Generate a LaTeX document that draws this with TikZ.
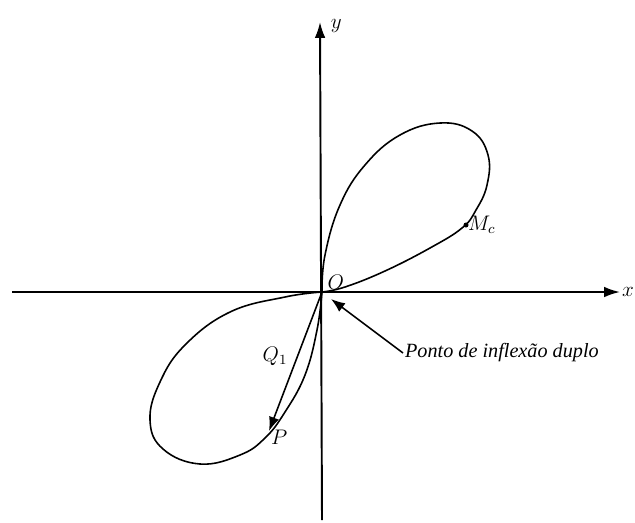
\documentclass[tikz,border=0pt]{standalone}
\usepackage{fontspec}
\setmainfont{Liberation Serif}
\usetikzlibrary{arrows.meta, positioning}

\begin{document}
\begin{tikzpicture}[
    x=0.02cm, y=-0.02cm,
    axis/.style={
        ->,
        >={Latex[length=9pt, width=6pt]},
        line width=1.1pt,
        draw=black
    },
    curve/.style={
        line width=0.9pt,
        draw=black
    },
    pointer/.style={
        ->,
        >={Latex[length=8pt, width=6pt]},
        line width=0.9pt,
        draw=black
    },
    lbl/.style={
        font=\fontsize{12}{14}\selectfont,
        inner sep=1pt
    }
]
\useasboundingbox (0,0) rectangle (635,522);

% Points
\coordinate (O) at (322,292);
\coordinate (xstart) at (12,292);
\coordinate (xend) at (620,292);
\coordinate (ybot) at (322,520);
\coordinate (ytop) at (320,22);
\coordinate (P) at (269,431);
\coordinate (Mc) at (466,225);
\coordinate (tip) at (331,299);

% Axes
\draw [axis] (xstart) -- (xend);
\draw [axis] (ybot) -- (ytop);

% Loops
\draw [curve] plot[smooth, tension=0.7] coordinates {(322,292) (325,255) (340,205) (365,165) (400,135) (440,123) (472,131) (488,155) (487,185) (476,210) (462,228) (430,248) (385,271) (345,287) (322,292)};
\draw [curve] plot[smooth, tension=0.7] coordinates {(322,292) (285,297) (230,312) (185,345) (160,382) (150,420) (163,449) (200,464) (240,455) (265,438) (285,412) (305,375) (317,330) (322,292)};
\draw [pointer] (O) -- (P);
\fill (Mc) circle (2.5);

% Labels
\node (xlab) [lbl, right=0pt of xend] {$x$};
\node (ylab) [lbl, right=5pt of ytop, yshift=-2pt] {$y$};
\node (olab) [lbl, above right=0pt and 2pt of O] {$O$};
\node (mlab) [lbl, right=0pt of Mc] {$M_c$};
\node (plab) [lbl, below right=-2pt and 0pt of P] {$P$};
\node (qlab) [lbl] at (275,356) {$Q_1$};
\node (inflex) [lbl, anchor=west, font=\fontsize{11.5}{13}\selectfont\itshape] at (403,353) {Ponto de inflexão duplo};

\draw [pointer] (inflex.west) -- (tip);

\end{tikzpicture}
\end{document}
